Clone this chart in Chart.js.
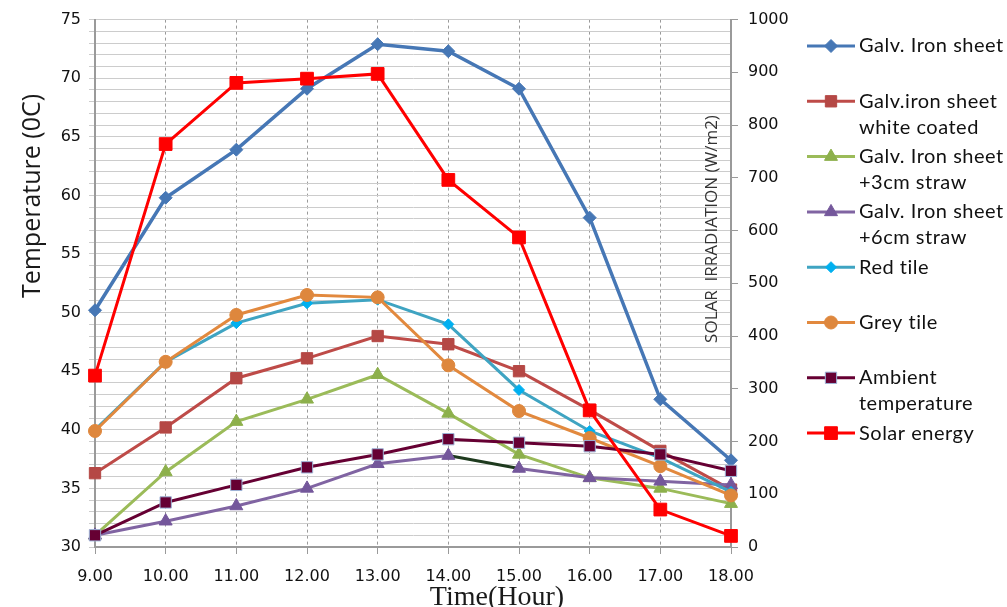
<!DOCTYPE html>
<html>
<head>
<meta charset="utf-8">
<script src="https://cdn.jsdelivr.net/npm/chart.js@4.4.1/dist/chart.umd.min.js"></script>
<style>
  body { margin: 0; background: #fff; }
  #wrap { width: 1007px; height: 607px; }
</style>
</head>
<body>
<div id="wrap"><canvas id="tempChart" width="1007" height="607"></canvas></div>
<script>
// <===== data =====>
var hours = ['9.00', '10.00', '11.00', '12.00', '13.00', '14.00', '15.00', '16.00', '17.00', '18.00'];

var galvIron     = [50.2, 59.8, 63.9, 69.1, 72.9, 72.3, 69.1, 58.1, 42.6, 37.4];
var whiteCoated  = [36.3, 40.2, 44.4, 46.1, 48.0, 47.3, 45.0, 41.7, 38.2, 34.9];
var straw3cm     = [31.0, 36.4, 40.7, 42.6, 44.7, 41.4, 37.9, 35.9, 35.0, 33.7];
var straw6cm     = [31.0, 32.2, 33.5, 35.0, 37.1, 37.8, 36.7, 35.9, 35.6, 35.3];
var redTile      = [40.0, 45.8, 49.1, 50.8, 51.1, 49.0, 43.4, 39.9, 37.6, 34.7];
var greyTile     = [39.9, 45.8, 49.8, 51.5, 51.3, 45.5, 41.6, 39.3, 36.9, 34.4];
var ambientTemp  = [31.0, 33.8, 35.3, 36.8, 37.9, 39.2, 38.9, 38.6, 37.9, 36.5];
var solarEnergy  = [325, 764, 880, 888, 897, 696, 587, 259, 71, 21]; // W/m2, right axis

var tempTicks  = [30, 35, 40, 45, 50, 55, 60, 65, 70, 75];
var solarTicks = [0, 100, 200, 300, 400, 500, 600, 700, 800, 900, 1000];

// legend text (two lines where the picture wraps)
var legendText = [
    ['Galv. Iron sheet'],
    ['Galv.iron sheet', 'white coated'],
    ['Galv. Iron sheet', '+3cm straw'],
    ['Galv. Iron sheet', '+6cm straw'],
    ['Red tile'],
    ['Grey tile'],
    ['Ambient', 'temperature'],
    ['Solar energy']
];

function series(label, data, color, marker, style, radius, extra) {
    var ds = {
        label: label,
        data: data,
        yAxisID: 'y',
        borderColor: color,
        backgroundColor: marker,
        pointBackgroundColor: marker,
        pointBorderColor: marker,
        pointStyle: style,
        pointRadius: radius,
        pointBorderWidth: 1,
        borderWidth: 3,
        tension: 0
    };
    for (var k in extra) ds[k] = extra[k];
    return ds;
}

var datasets = [
    series('Galv. Iron sheet', galvIron, '#4677B5', '#4677B5', 'rectRot', 6.5, { borderWidth: 3.5 }),
    series('Galv.iron sheet white coated', whiteCoated, '#BE4B48', '#B54845', 'rect', 8),
    series('Galv. Iron sheet +3cm straw', straw3cm, '#9BBB59', '#8DB04C', 'triangle', 7.5),
    series('Galv. Iron sheet +6cm straw', straw6cm, '#8064A2', '#74579B', 'triangle', 7.5, {
        // the 14.00-15.00 piece is drawn dark in the picture
        segment: { borderColor: function (c) { return c.p0DataIndex === 5 ? '#1E3A1E' : undefined; } }
    }),
    series('Red tile', redTile, '#3FA4C2', '#00B0F0', 'rectRot', 5.5),
    series('Grey tile', greyTile, '#E2893E', '#DE873D', 'circle', 6.5),
    series('Ambient temperature', ambientTemp, '#660033', '#660033', 'rect', 8, { pointBorderColor: '#9DB3D8' }),
    series('Solar energy', solarEnergy, '#FF0000', '#FF0000', 'rect', 9, { yAxisID: 'y1' })
];
// excel draws the last series on top
datasets.forEach(function (ds, i) { ds.order = datasets.length - 1 - i; });

// <===== extra text + legend drawn on the canvas =====>
var extrasPlugin = {
    id: 'extras',
    afterDraw: function (chart) {
        var ctx = chart.ctx;
        ctx.save();

        // axis titles
        ctx.fillStyle = '#1a1a1a';
        ctx.textAlign = 'center';
        ctx.textBaseline = 'middle';

        ctx.save();
        ctx.translate(33, 196);
        ctx.rotate(-Math.PI / 2);
        ctx.font = '25px "Open Sans"';
        ctx.fillText('Temperature (0C)', 0, 0);
        ctx.restore();

        ctx.save();
        ctx.translate(712, 229);
        ctx.rotate(-Math.PI / 2);
        ctx.font = '17px "Open Sans"';
        ctx.fillStyle = '#333';
        ctx.fillText('SOLAR  IRRADIATION (W/m2)', 0, 0);
        ctx.restore();

        ctx.font = '28px "Liberation Serif"';
        ctx.textBaseline = 'alphabetic';
        ctx.fillText('Time(Hour)', 497, 605);

        // legend
        ctx.textAlign = 'left';
        ctx.textBaseline = 'middle';
        ctx.font = '20px Lato';
        ctx.letterSpacing = '0.5px';
        chart.data.datasets.forEach(function (ds, i) {
            var y = 46 + i * 55.3;
            ctx.strokeStyle = ds.borderColor;
            ctx.lineWidth = 3;
            ctx.beginPath();
            ctx.moveTo(807, y);
            ctx.lineTo(855, y);
            ctx.stroke();
            ctx.fillStyle = ds.pointBackgroundColor;
            ctx.strokeStyle = ds.pointBorderColor;
            ctx.lineWidth = 1;
            Chart.helpers.drawPoint(ctx, { pointStyle: ds.pointStyle, radius: ds.pointRadius, rotation: 0, borderWidth: 1 }, 831, y);
            ctx.fillStyle = '#111';
            legendText[i].forEach(function (line, j) {
                ctx.fillText(line, 859, y + j * 26);
            });
        });
        ctx.restore();
    }
};

var tickFont = { family: '"DejaVu Sans"', size: 16 };

var ctx = document.getElementById('tempChart').getContext('2d');
var tempChart = new Chart(ctx, {
    type: 'line',
    data: { labels: hours, datasets: datasets },
    options: {
        responsive: false,
        animation: false,
        devicePixelRatio: 1,
        layout: { padding: { top: 18, left: 0, right: 0, bottom: 0 } },
        plugins: {
            legend: { display: false },
            tooltip: { enabled: false }
        },
        scales: {
            x: {
                offset: false,
                afterFit: function (s) { s.height = 60; },
                grid: {
                    color: '#9A9A9A',
                    lineWidth: 1,
                    tickLength: 7,
                    tickBorderDash: []
                },
                // in v4 border.dash dashes the grid lines, the axis line stays solid
                border: { display: true, color: '#9A9A9A', width: 2, dash: [3, 3] },
                ticks: {
                    padding: 13,
                    color: '#111',
                    font: tickFont,
                    maxRotation: 0
                }
            },
            y: {
                position: 'left',
                min: tempTicks[0],
                max: tempTicks[tempTicks.length - 1],
                afterFit: function (s) { s.width = 95; },
                ticks: {
                    stepSize: 1,
                    autoSkip: false,
                    padding: 8,
                    color: '#111',
                    font: tickFont,
                    callback: function (v) { return tempTicks.indexOf(v) >= 0 ? v : ''; }
                },
                grid: { color: '#CCCCCC', lineWidth: 1, tickLength: 6 },
                border: { display: true, color: '#9A9A9A', width: 2 }
            },
            y1: {
                position: 'right',
                min: solarTicks[0],
                max: solarTicks[solarTicks.length - 1],
                afterFit: function (s) { s.width = 276; },
                ticks: {
                    stepSize: 100,
                    padding: 10,
                    color: '#111',
                    font: tickFont,
                    callback: function (v) { return solarTicks.indexOf(v) >= 0 ? v : null; }
                },
                grid: { drawOnChartArea: false, color: '#9A9A9A', tickLength: 7 },
                border: { display: true, color: '#9A9A9A', width: 2 }
            }
        }
    },
    plugins: [extrasPlugin]
});
</script>
</body>
</html>
